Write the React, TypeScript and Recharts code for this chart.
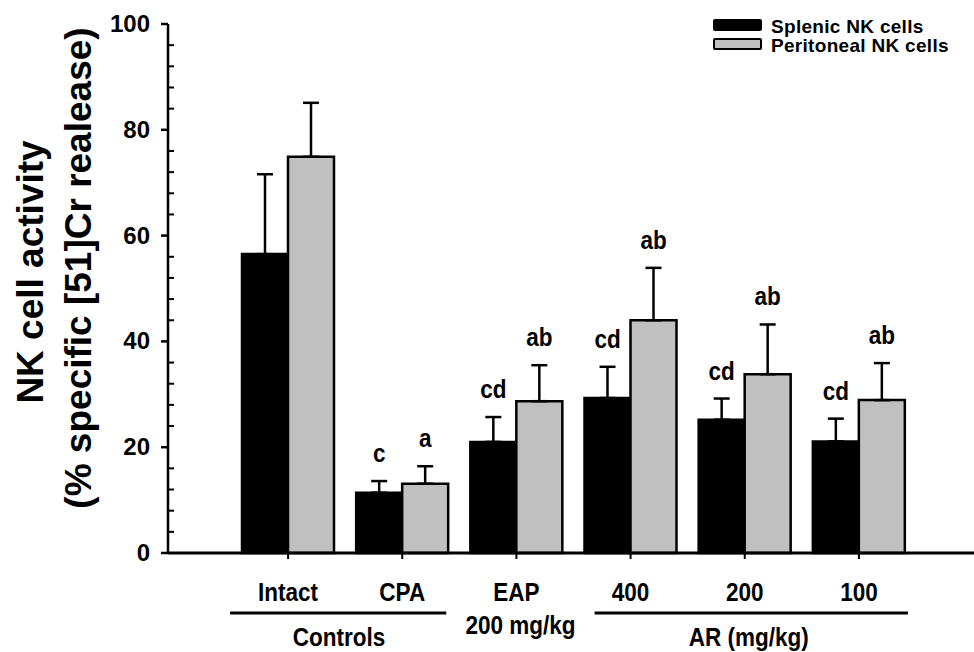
import React from 'react'
import {
  BarChart, Bar, XAxis, YAxis, ErrorBar, LabelList,
} from 'recharts'

// values
const categories       = ['Intact', 'CPA', 'EAP', '400', '200', '100']
const splenic          = [56.5, 11.4, 21.0, 29.3, 25.2, 21.1]
const splenicErr       = [15.1, 2.2, 4.7, 5.9, 4.0, 4.3]
const peritoneal       = [74.9, 13.1, 28.7, 44.0, 33.8, 28.9]
const peritonealErr    = [10.2, 3.3, 6.8, 9.9, 9.4, 7.0]
const splenicLetters   = ['', 'c', 'cd', 'cd', 'cd', 'cd']
const peritonealLetters = ['', 'a', 'ab', 'ab', 'ab', 'ab']
const yTicks = [0, 4, 8, 12, 16, 20, 24, 28, 32, 36, 40, 44, 48, 52, 56, 60,
                64, 68, 72, 76, 80, 84, 88, 92, 96, 100]
const seriesNames  = ['Splenic NK cells', 'Peritoneal NK cells']
const seriesColors = ['#000', '#c0c0c0']

const data = categories.map((name, i) => ({
  name,
  splenic:       splenic[i],
  splenicErr:    [0, splenicErr[i]],
  peritoneal:    peritoneal[i],
  peritonealErr: [0, peritonealErr[i]],
}))

const FONT = "'Liberation Sans', Arial, Helvetica, sans-serif"
const W = 974, H = 652
const AXIS_W = 168
const PAD_L = 63, PAD_R = 58
const STEP = (W - AXIS_W - PAD_L - PAD_R) / categories.length

// bold, slightly condensed text like the original figure
function T({ x, y, children, size = 25 }: any) {
  return (
    <text transform={`translate(${x},${y}) scale(0.9,1)`} textAnchor="middle"
          fontFamily={FONT} fontWeight="bold" fontSize={size} fill="#000">
      {children}
    </text>
  )
}

function YTick({ x, y, payload }: any) {
  const v = payload.value
  if (v % 20 !== 0) {
    return <line x1={x} x2={x + 6} y1={y} y2={y} stroke="#000" strokeWidth={2} />
  }
  return (
    <g>
      <line x1={x - 7} x2={x} y1={y} y2={y} stroke="#000" strokeWidth={2.5} />
      <text x={x - 18} y={y} dy={8} textAnchor="end" fontFamily={FONT}
            fontWeight="bold" fontSize={24} fill="#000">{v}</text>
    </g>
  )
}

function XTick({ x, y, payload, index }: any) {
  return (
    <g>
      <T x={x} y={y + 42}>{payload.value}</T>
      {index === 0 && (
        <g>
          <line x1={x - 58} x2={x + STEP + 44} y1={y + 54} y2={y + 54}
                stroke="#000" strokeWidth={3} />
          <T x={x + 51} y={y + 87}>Controls</T>
        </g>
      )}
      {index === 2 && <T x={x + 4} y={y + 75}>200 mg/kg</T>}
      {index === 3 && (
        <g>
          <line x1={x - 36} x2={x + 2 * STEP + 49} y1={y + 54} y2={y + 54}
                stroke="#000" strokeWidth={3} />
          <T x={x + STEP + 4} y={y + 87}>AR (mg/kg)</T>
        </g>
      )}
    </g>
  )
}

const letterLabel = (letters: string[], errs: number[], vals: number[]) =>
  (p: any) => {
    const s = letters[p.index]
    if (!s) return null
    const capY = p.y - p.height * errs[p.index] / vals[p.index]
    return <T x={p.x + p.width / 2} y={capY - 19}>{s}</T>
  }

function YTitle() {
  return (
    <g fontFamily={FONT} fontWeight="bold" fontSize={37} fill="#000">
      <text x={43} y={272} textAnchor="middle" transform="rotate(-90, 43, 272)">
        NK cell activity
      </text>
      <text x={91} y={268} textAnchor="middle" transform="rotate(-90, 91, 268)">
        (% specific [51]Cr realease)
      </text>
    </g>
  )
}

function LegendBox() {
  return (
    <div style={{ position: 'absolute', left: 713, top: 17,
                  fontFamily: FONT, fontWeight: 'bold', fontSize: 19, lineHeight: '19px' }}>
      {seriesNames.map((n, i) => (
        <div key={n} style={{ display: 'flex', alignItems: 'center', height: 19 }}>
          <div style={{
            width: 45, height: 8, background: seriesColors[i],
            border: '2.5px solid #000', borderRadius: 2, marginRight: 9,
            marginTop: -4,
          }} />
          <span style={{ letterSpacing: 0.3 }}>{n}</span>
        </div>
      ))}
    </div>
  )
}

export default function App() {
  return (
    <div style={{ position: 'absolute', left: 0, top: 0, width: W, height: H, background: '#fff' }}>
      <BarChart width={W} height={H} data={data} barGap={0}
                margin={{ top: 24, right: 0, bottom: 0, left: 0 }}>
        <XAxis dataKey="name" height={99} interval={0}
               padding={{ left: PAD_L, right: PAD_R }}
               axisLine={{ stroke: '#000', strokeWidth: 3 }}
               tickLine={{ stroke: '#000', strokeWidth: 2 }}
               tickSize={6} tickMargin={0} tick={<XTick />} />
        <YAxis domain={[0, 100]} ticks={yTicks} interval={0} width={AXIS_W}
               axisLine={{ stroke: '#000', strokeWidth: 2.5 }}
               tickLine={false} tickSize={0} tickMargin={0}
               tick={<YTick />} label={<YTitle />} />
        <Bar dataKey="splenic" name={seriesNames[0]} fill={seriesColors[0]}
             stroke="#000" strokeWidth={2.5} barSize={46} isAnimationActive={false}>
          <ErrorBar dataKey="splenicErr" direction="y" width={8}
                    stroke="#000" strokeWidth={2.5} />
          <LabelList dataKey="splenic"
                     content={letterLabel(splenicLetters, splenicErr, splenic)} />
        </Bar>
        <Bar dataKey="peritoneal" name={seriesNames[1]} fill={seriesColors[1]}
             stroke="#000" strokeWidth={2.5} barSize={46} isAnimationActive={false}>
          <ErrorBar dataKey="peritonealErr" direction="y" width={8}
                    stroke="#000" strokeWidth={2.5} />
          <LabelList dataKey="peritoneal"
                     content={letterLabel(peritonealLetters, peritonealErr, peritoneal)} />
        </Bar>
      </BarChart>
      <LegendBox />
    </div>
  )
}
